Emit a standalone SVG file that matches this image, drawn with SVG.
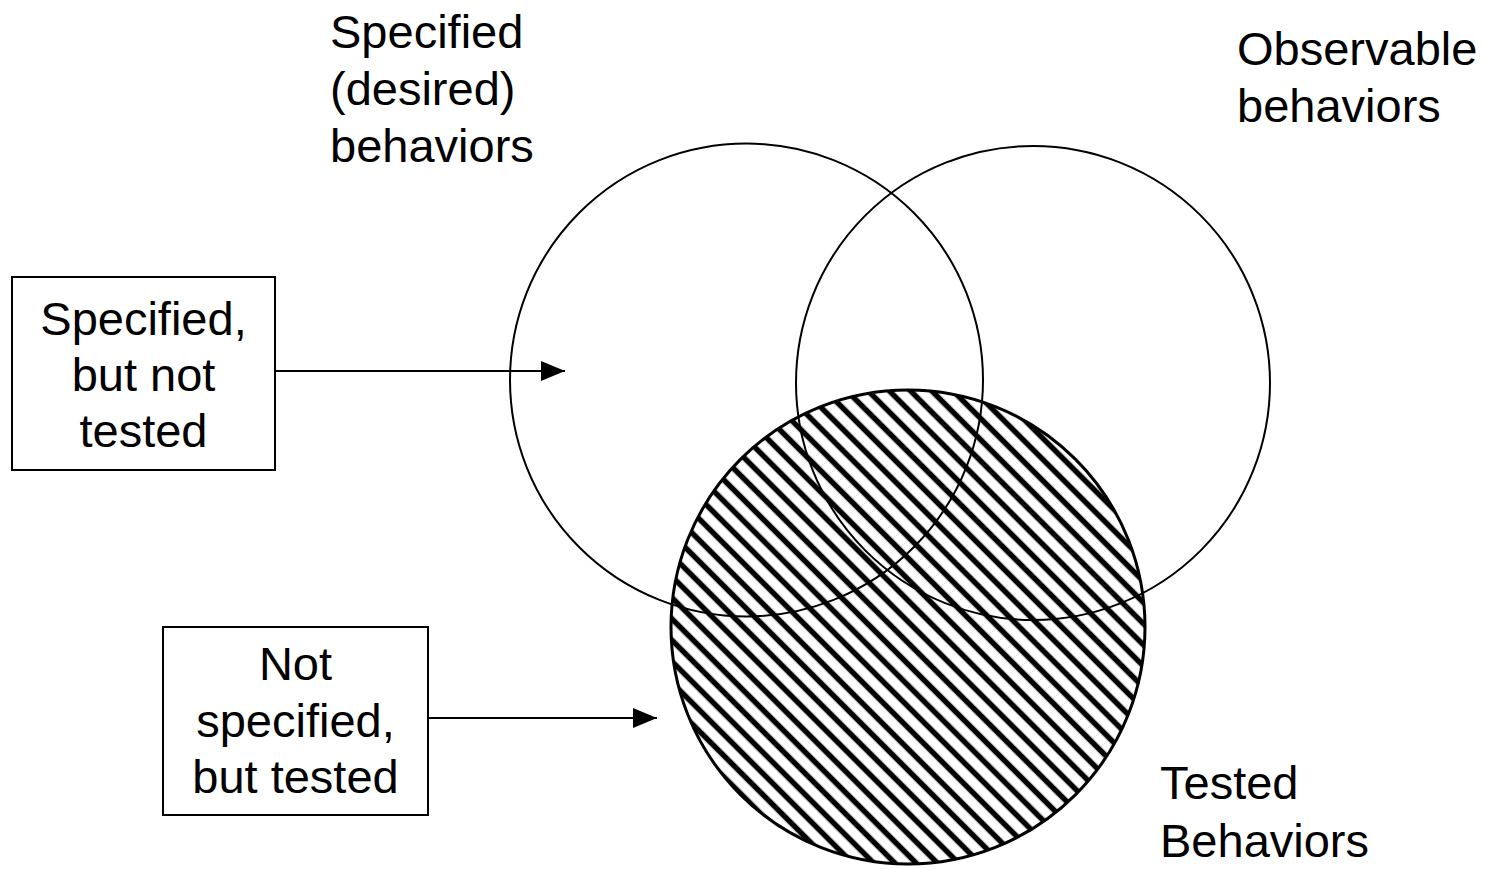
<svg xmlns="http://www.w3.org/2000/svg" width="1486" height="869" viewBox="0 0 1486 869">
<style>
.t{font-family:"Liberation Sans",Arial,sans-serif;font-size:47px;fill:#000}
.c{text-anchor:middle}
.ol{fill:none;stroke:#000;stroke-width:2}
.box{fill:#fff;stroke:#000;stroke-width:2}
.conn{stroke:#000;stroke-width:2;fill:none}
</style>
<defs>
<pattern id="hatch" patternUnits="userSpaceOnUse" width="15" height="15" patternTransform="rotate(45)">
<line x1="-2" y1="7.5" x2="17" y2="7.5" stroke="#000" stroke-width="5.5"/>
</pattern>
<marker id="arr" markerWidth="24" markerHeight="20" refX="24" refY="10" orient="auto" markerUnits="userSpaceOnUse">
<path d="M0,0 L24,10 L0,20 Z" fill="#000"/>
</marker>
</defs>
<g id="tested">
<circle cx="908" cy="627" r="237" fill="url(#hatch)" stroke="#000" stroke-width="3"/>
</g>
<g id="specified">
<circle cx="746.5" cy="380" r="236.5" class="ol"/>
</g>
<g id="observable">
<circle cx="1033" cy="383" r="237" class="ol"/>
</g>
<g id="label-specified">
<text class="t" x="330" y="48">Specified</text>
<text class="t" x="330" y="105">(desired)</text>
<text class="t" x="330" y="162">behaviors</text>
</g>
<g id="label-observable">
<text class="t" x="1237" y="65">Observable</text>
<text class="t" x="1237" y="122">behaviors</text>
</g>
<g id="label-tested">
<text class="t" x="1160" y="799">Tested</text>
<text class="t" x="1160" y="857">Behaviors</text>
</g>
<g id="box-spec-not-tested">
<rect x="12" y="277" width="263" height="193" class="box"/>
<text class="t c" x="143.5" y="335">Specified,</text>
<text class="t c" x="143.5" y="391">but not</text>
<text class="t c" x="143.5" y="447">tested</text>
</g>
<g id="box-not-spec-tested">
<rect x="163" y="627" width="265" height="188" class="box"/>
<text class="t c" x="295.5" y="680">Not</text>
<text class="t c" x="295.5" y="737">specified,</text>
<text class="t c" x="295.5" y="793">but tested</text>
</g>
<g id="connectors">
<line x1="275" y1="371" x2="565" y2="371" class="conn" marker-end="url(#arr)"/>
<line x1="428" y1="718" x2="657" y2="718" class="conn" marker-end="url(#arr)"/>
</g>
</svg>
